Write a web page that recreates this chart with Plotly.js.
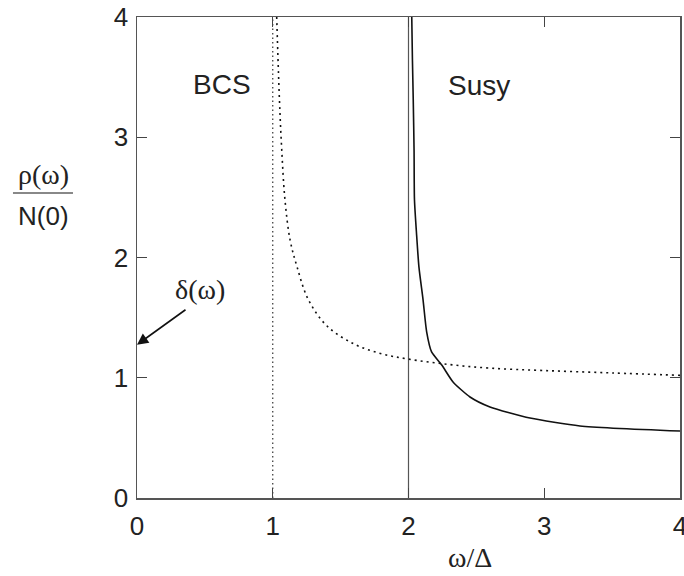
<!DOCTYPE html>
<html>
<head>
<meta charset="utf-8">
<script src="https://cdn.plot.ly/plotly-3.0.1.min.js"></script>
<style>html,body{margin:0;padding:0;background:#fff;}#chart{width:684px;height:576px;}</style>
</head>
<body>
<div id="chart"></div>
<script>
// BCS density of states (dotted)
const bcsX = [1.029, 1.049, 1.066, 1.09, 1.127, 1.177, 1.262, 1.4, 1.6, 1.8, 2.0, 2.3, 2.6, 3.0, 3.5, 4.0];
const bcsY = [4.0, 3.32, 2.9, 2.48, 2.15, 1.93, 1.65, 1.43, 1.28, 1.2, 1.155, 1.11, 1.08, 1.06, 1.04, 1.02];
// Susy density of states (solid)
const susyX = [2.024, 2.029, 2.035, 2.041, 2.044, 2.059, 2.077, 2.107, 2.134, 2.17, 2.245, 2.328, 2.453, 2.60, 2.895, 3.263, 4.0];
const susyY = [4.0, 3.64, 3.31, 2.89, 2.48, 2.20, 1.92, 1.65, 1.38, 1.215, 1.106, 0.965, 0.840, 0.757, 0.665, 0.599, 0.557];
// Vertical threshold lines
const bcsEdgeX = [1, 1];
const susyEdgeX = [2, 2];
const edgeY = [0, 4];
const tickVals = [0, 1, 2, 3, 4];
const tickText = ['0', '1', '2', '3', '4'];

const sans = 'Liberation Sans, Arial, Helvetica, sans-serif';
const serif = 'Liberation Serif, Times New Roman, serif';

const traces = [
  {x: bcsEdgeX, y: edgeY, mode: 'lines', line: {color: '#333', width: 1.2, dash: '1.5px,3px'}, hoverinfo: 'skip'},
  {x: susyEdgeX, y: edgeY, mode: 'lines', line: {color: '#555', width: 1.2}, hoverinfo: 'skip'},
  {x: bcsX, y: bcsY, mode: 'lines', line: {color: '#111', width: 1.6, dash: '2px,4px', shape: 'spline'}, hoverinfo: 'skip'},
  {x: susyX, y: susyY, mode: 'lines', line: {color: '#111', width: 1.6, shape: 'spline', smoothing: 0.6}, hoverinfo: 'skip'}
];

const axisCommon = {
  range: [0, 4], tickvals: tickVals, ticktext: tickText,
  ticks: 'inside', ticklen: 10, tickwidth: 1.2, tickcolor: '#444',
  showline: true, linecolor: '#555', linewidth: 1.5, mirror: 'ticks',
  showgrid: false, zeroline: false, ticklabeloverflow: 'allow',
  tickfont: {family: sans, size: 26, color: '#222'}
};

const layout = {
  width: 684, height: 576,
  margin: {l: 137, r: 4, t: 17, b: 78},
  paper_bgcolor: '#fff', plot_bgcolor: '#fff',
  showlegend: false,
  xaxis: Object.assign({}, axisCommon, {ticklabelstandoff: 4}),
  yaxis: Object.assign({}, axisCommon, {ticklabelstandoff: 2}),
  annotations: [
    {x: 0.626, y: 3.44, xref: 'x', yref: 'y', text: 'BCS', showarrow: false, xanchor: 'center', yanchor: 'middle', font: {family: sans, size: 28, color: '#222'}},
    {x: 2.52, y: 3.43, xref: 'x', yref: 'y', text: 'Susy', showarrow: false, xanchor: 'center', yanchor: 'middle', font: {family: sans, size: 28, color: '#222'}},
    {x: 0.464, y: 1.73, xref: 'x', yref: 'y', text: 'δ(ω)', showarrow: false, xanchor: 'center', yanchor: 'middle', font: {family: serif, size: 28, color: '#222'}},
    {x: 0, y: 1.275, xref: 'x', yref: 'y', text: '', showarrow: true, ax: 50, ay: -36,
     arrowhead: 2, arrowsize: 1.4, arrowwidth: 1.6, arrowcolor: '#111', standoff: 0, startstandoff: 0},
    {x: -0.1731, y: 0.673, xref: 'paper', yref: 'paper', text: 'ρ(ω)', showarrow: false, xanchor: 'center', yanchor: 'middle', font: {family: serif, size: 28, color: '#222'}},
    {x: -0.1731, y: 0.586, xref: 'paper', yref: 'paper', text: 'N(0)', showarrow: false, xanchor: 'center', yanchor: 'middle', font: {family: sans, size: 26, color: '#222'}},
    {x: 0.6133, y: -0.1247, xref: 'paper', yref: 'paper', text: 'ω/Δ', showarrow: false, xanchor: 'center', yanchor: 'middle', font: {family: serif, size: 28, color: '#222'}}
  ],
  shapes: [
    {type: 'line', xref: 'paper', yref: 'paper', x0: -0.2284, x1: -0.1179, y0: 0.634, y1: 0.634, line: {color: '#888', width: 2}}
  ]
};

Plotly.newPlot('chart', traces, layout, {staticPlot: true, displayModeBar: false});
</script>
</body>
</html>
